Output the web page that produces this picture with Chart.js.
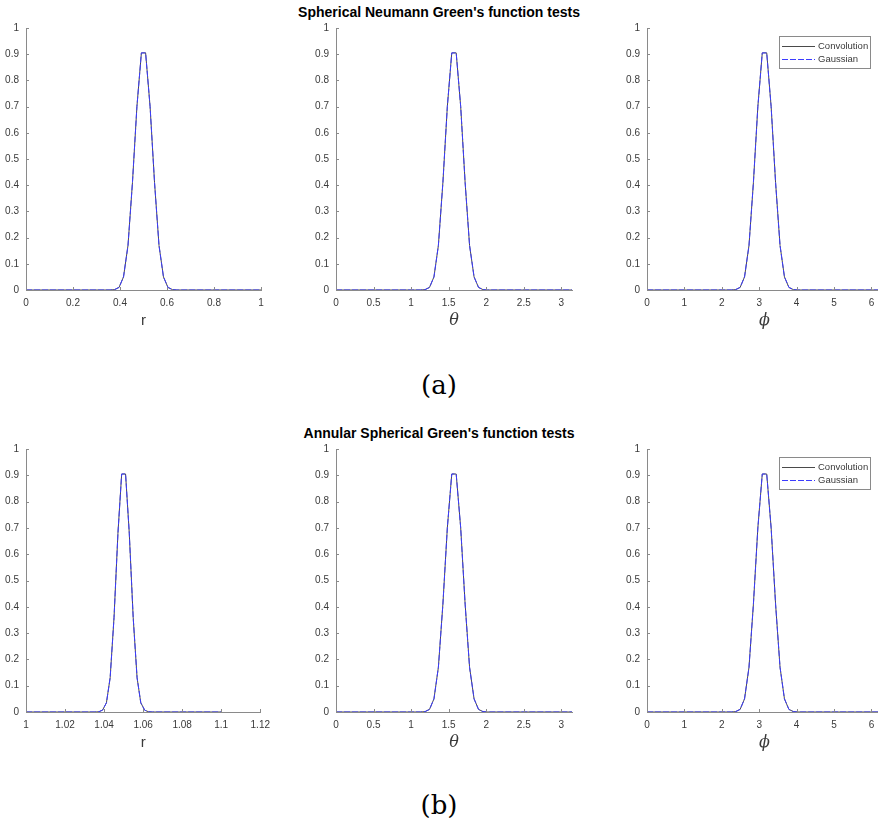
<!DOCTYPE html>
<html>
<head>
<meta charset="utf-8">
<script src="https://cdn.jsdelivr.net/npm/chart.js@4.4.0/dist/chart.umd.min.js"></script>
<style>
  html, body { margin: 0; padding: 0; background: #fff; }
  body { width: 878px; height: 825px; position: relative; overflow: hidden; font-family: "Liberation Sans", Arial, sans-serif; }
  canvas { position: absolute; }
  .title { position: absolute; left: 0; width: 878px; text-align: center; font-weight: bold; font-size: 14px; line-height: 16px; color: #000; }
  .cap { position: absolute; left: 0; width: 878px; text-align: center; font-family: "DejaVu Serif", serif; font-size: 26px; line-height: 30px; color: #000; }
</style>
</head>
<body>
<div class="title" style="top:4px">Spherical Neumann Green's function tests</div>
<div class="cap" style="top:370px">(a)</div>
<div class="title" style="top:425px">Annular Spherical Green's function tests</div>
<div class="cap" style="top:790px">(b)</div>

<canvas id="a1"></canvas>
<canvas id="a2"></canvas>
<canvas id="a3"></canvas>
<canvas id="b1"></canvas>
<canvas id="b2"></canvas>
<canvas id="b3"></canvas>

<script>
// values
const yTicks = [0, 0.1, 0.2, 0.3, 0.4, 0.5, 0.6, 0.7, 0.8, 0.9, 1];

const rTicksA = [0, 0.2, 0.4, 0.6, 0.8, 1];
const thetaTicks = [0, 0.5, 1, 1.5, 2, 2.5, 3];
const phiTicks = [0, 1, 2, 3, 4, 5, 6];
const rTicksB = [1, 1.02, 1.04, 1.06, 1.08, 1.1, 1.12];

// (a) Spherical Neumann
const rA = [0, 0.358, 0.377, 0.396, 0.415, 0.434, 0.453, 0.472, 0.491, 0.509, 0.528, 0.547, 0.566, 0.585, 0.604, 0.623, 0.642, 1];
const theta = [0, 1.126, 1.186, 1.245, 1.304, 1.363, 1.423, 1.482, 1.541, 1.600, 1.660, 1.719, 1.778, 1.838, 1.897, 1.956, 2.015, 3.1416];
const phi = [0, 2.253, 2.371, 2.490, 2.608, 2.727, 2.845, 2.964, 3.082, 3.201, 3.319, 3.438, 3.557, 3.675, 3.794, 3.912, 4.031, 6.2832];
const convA = [0, 0, 0.0015, 0.01, 0.05, 0.17, 0.41, 0.70, 0.905, 0.905, 0.70, 0.41, 0.17, 0.05, 0.01, 0.0015, 0, 0];
const gaussA = [0, 0, 0.0015, 0.01, 0.05, 0.17, 0.41, 0.70, 0.905, 0.905, 0.70, 0.41, 0.17, 0.05, 0.01, 0.0015, 0, 0];

// (b) Annular Spherical
const rB = [1, 1.0353, 1.0373, 1.0392, 1.0412, 1.0431, 1.0451, 1.0471, 1.0490, 1.0510, 1.0529, 1.0549, 1.0569, 1.0588, 1.0608, 1.0627, 1.0647, 1.1];
const convB = [0, 0, 0.001, 0.007, 0.035, 0.13, 0.36, 0.68, 0.905, 0.905, 0.68, 0.36, 0.13, 0.035, 0.007, 0.001, 0, 0];
const gaussB = [0, 0, 0.001, 0.007, 0.035, 0.13, 0.36, 0.68, 0.905, 0.905, 0.68, 0.36, 0.13, 0.035, 0.007, 0.001, 0, 0];

const AXIS = '#8a8a8a';
const TEXT = '#3a3a3a';
const CONV = '#4a4a4a';
const GAUSS = '#3c3cff';
const PAD_L = 30, PAD_T = 12, PAD_R = 16, PAD_B = 48;

const pts = (xs, ys) => xs.map((x, i) => ({ x: x, y: ys[i] }));

// small ticks pointing into the axes, like matlab
const inwardTicks = {
  id: 'inwardTicks',
  afterDatasetsDraw(chart) {
    const { ctx, chartArea: a, scales: { x, y } } = chart;
    ctx.save();
    ctx.strokeStyle = AXIS;
    ctx.lineWidth = 1;
    ctx.beginPath();
    x.ticks.forEach(t => {
      const px = Math.round(x.getPixelForValue(t.value)) + 0.5;
      ctx.moveTo(px, a.bottom);
      ctx.lineTo(px, a.bottom - 3);
    });
    y.ticks.forEach(t => {
      const py = Math.round(y.getPixelForValue(t.value)) + 0.5;
      ctx.moveTo(a.left, py);
      ctx.lineTo(a.left + 3, py);
    });
    ctx.stroke();
    ctx.restore();
  }
};

// boxed legend in the top right corner
const boxLegend = {
  id: 'boxLegend',
  afterDraw(chart, args, opts) {
    if (!opts.show) return;
    const { ctx, chartArea: a } = chart;
    const x0 = a.left + 132, y0 = a.top + 8, w = 91, h = 32;
    ctx.save();
    ctx.fillStyle = '#fff';
    ctx.fillRect(x0, y0, w, h);
    ctx.strokeStyle = AXIS;
    ctx.lineWidth = 1;
    ctx.strokeRect(x0 + 0.5, y0 + 0.5, w, h);
    ctx.font = '9.5px "Liberation Sans", Arial, sans-serif';
    ctx.textBaseline = 'middle';
    chart.data.datasets.forEach((ds, i) => {
      const yy = Math.round(y0 + 10 + i * 13) + 0.5;
      ctx.strokeStyle = ds.borderColor;
      ctx.setLineDash(ds.borderDash || []);
      ctx.beginPath();
      ctx.moveTo(x0 + 3, yy);
      ctx.lineTo(x0 + 36, yy);
      ctx.stroke();
      ctx.setLineDash([]);
      ctx.fillStyle = TEXT;
      ctx.fillText(ds.label, x0 + 39, yy);
    });
    ctx.restore();
  }
};

function makeChart(id, left, top, w, h, p) {
  const cv = document.getElementById(id);
  cv.width = w + PAD_L + PAD_R;
  cv.height = h + PAD_T + PAD_B;
  cv.style.left = (left - PAD_L) + 'px';
  cv.style.top = (top - PAD_T) + 'px';

  return new Chart(cv.getContext('2d'), {
    type: 'line',
    data: {
      datasets: [{
        label: 'Convolution',
        data: pts(p.xs, p.conv),
        borderColor: CONV,
        borderWidth: 1,
        pointRadius: 0,
        tension: 0,
        order: 1
      }, {
        label: 'Gaussian',
        data: pts(p.xs, p.gauss),
        borderColor: GAUSS,
        borderWidth: 1,
        borderDash: [6, 2],
        pointRadius: 0,
        tension: 0,
        order: 0
      }]
    },
    options: {
      responsive: false,
      animation: false,
      layout: { autoPadding: false, padding: { left: 0, top: PAD_T, right: PAD_R, bottom: 0 } },
      plugins: {
        legend: { display: false },
        tooltip: { enabled: false },
        boxLegend: { show: !!p.legend }
      },
      scales: {
        x: {
          type: 'linear',
          min: p.min,
          max: p.max,
          afterFit: s => { s.height = PAD_B; },
          afterBuildTicks: s => { s.ticks = p.ticks.map(v => ({ value: v })); },
          ticks: {
            autoSkip: false, maxRotation: 0, padding: 7, color: TEXT,
            font: { family: '"Liberation Sans", Arial, sans-serif', size: 10 },
            callback: v => String(v)
          },
          grid: { display: false, drawTicks: false },
          border: { display: true, color: AXIS, width: 1 },
          title: {
            display: true, text: p.label, color: TEXT,
            font: p.labelFont,
            padding: { top: 0, bottom: 8 }
          }
        },
        y: {
          type: 'linear',
          min: 0,
          max: 1,
          afterFit: s => { s.width = PAD_L; },
          afterBuildTicks: s => { s.ticks = yTicks.map(v => ({ value: v })); },
          ticks: {
            autoSkip: false, padding: 7, color: TEXT,
            font: { family: '"Liberation Sans", Arial, sans-serif', size: 10 },
            callback: v => String(v)
          },
          grid: { display: false, drawTicks: false },
          border: { display: true, color: AXIS, width: 1 }
        }
      }
    },
    plugins: [inwardTicks, boxLegend]
  });
}

const plain = { family: '"Liberation Sans", Arial, sans-serif', size: 15 };
const greek = { family: '"DejaVu Serif", serif', size: 16, style: 'italic' };

makeChart('a1', 26, 27, 235, 263, { xs: rA, conv: convA, gauss: gaussA, min: 0, max: 1, ticks: rTicksA, label: 'r', labelFont: plain });
makeChart('a2', 336, 27, 236, 263, { xs: theta, conv: convA, gauss: gaussA, min: 0, max: 3.1416, ticks: thetaTicks, label: 'θ', labelFont: greek });
makeChart('a3', 647, 27, 235, 263, { xs: phi, conv: convA, gauss: gaussA, min: 0, max: 6.2832, ticks: phiTicks, label: 'ϕ', labelFont: greek, legend: true });

makeChart('b1', 26, 448, 235, 264, { xs: rB, conv: convB, gauss: gaussB, min: 1, max: 1.12, ticks: rTicksB, label: 'r', labelFont: plain });
makeChart('b2', 336, 448, 236, 264, { xs: theta, conv: convA, gauss: gaussA, min: 0, max: 3.1416, ticks: thetaTicks, label: 'θ', labelFont: greek });
makeChart('b3', 647, 448, 235, 264, { xs: phi, conv: convA, gauss: gaussA, min: 0, max: 6.2832, ticks: phiTicks, label: 'ϕ', labelFont: greek, legend: true });
</script>
</body>
</html>
